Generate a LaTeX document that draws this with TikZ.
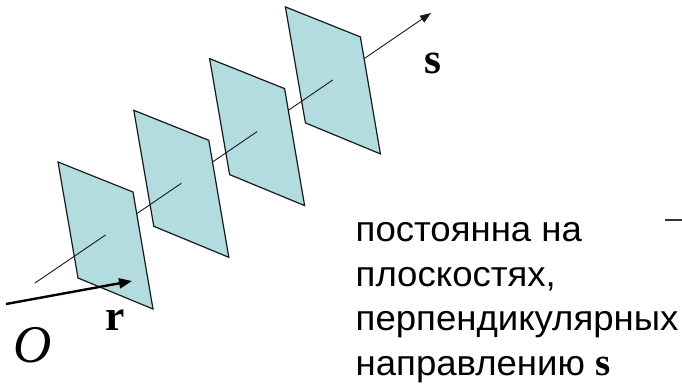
\documentclass[tikz,border=0pt]{standalone}
\usepackage{fontspec}
\usepackage{xcolor}
\usetikzlibrary{arrows.meta}
\newfontfamily\labelfont[FakeStretch=1.03]{Liberation Sans}
\newfontfamily\vecfont{Liberation Serif}
\definecolor{planeblue}{RGB}{178,220,224}

\begin{document}
\begin{tikzpicture}[x=1pt, y=-1pt,
        plane/.style={draw=black!90, line width=1.2pt, fill=planeblue},
        axis/.style={black!90, line width=0.9pt},
        vec/.style={inner sep=0pt, font=\vecfont\bfseries\fontsize{43.5}{43.5}\selectfont}]
            \useasboundingbox (0,0) rectangle (682,383);
            % direction s through the plane centres
            \coordinate (sstart) at (35,283);
            \coordinate (stip) at (431,13);
            \coordinate (c1) at (105.5,235);
            \coordinate (c2) at (181.3,183.3);
            \coordinate (c3) at (257.1,131.6);
            \coordinate (c4) at (332.9,79.9);
            \draw [axis, -{Triangle[length=11pt, width=8pt]}] (c4) -- (stip);
            \draw [plane, shift={(c4)}] (-47.5,-73) -- (27.5,-43) -- (47.5,74) -- (-27.5,43) -- cycle;
            \draw [axis] (c3) -- (c4);
            \draw [plane, shift={(c3)}] (-47.5,-73) -- (27.5,-43) -- (47.5,74) -- (-27.5,43) -- cycle;
            \draw [axis] (c2) -- (c3);
            \draw [plane, shift={(c2)}] (-47.5,-73) -- (27.5,-43) -- (47.5,74) -- (-27.5,43) -- cycle;
            \draw [axis] (c1) -- (c2);
            \draw [plane, shift={(c1)}] (-47.5,-73) -- (27.5,-43) -- (47.5,74) -- (-27.5,43) -- cycle;
            \draw [axis] (sstart) -- (c1);
            % radius vector r
            \coordinate (rstart) at (6,304);
            \coordinate (rtip) at (132,281);
            \draw [black, line width=2.4pt, -{Triangle[length=13pt, width=10pt]}] (rstart) -- (rtip);
            \node (slabel) [vec, anchor=base] at (433,73) {s};
            \node (rlabel) [vec, anchor=base] at (115,330) {r};
            \node (origin) [inner sep=0pt, anchor=base, font=\vecfont\itshape\fontsize{53}{53}\selectfont] at (33,362) {O};
            % caption (base = last line)
            \node (caption) [inner sep=0pt, anchor=base west, align=left, font=\labelfont\fontsize{35.5}{44.5}\selectfont] at (355.5,375)
                {постоянна на\\плоскостях,\\перпендикулярных\\направлению {\vecfont\bfseries\fontsize{39}{39}\selectfont s}};
            \coordinate (dashl) at (665,220);
            \coordinate (dashr) at (682,220);
            \draw [black!80, line width=1.2pt] (dashl) -- (dashr);
        \end{tikzpicture}
\end{document}
